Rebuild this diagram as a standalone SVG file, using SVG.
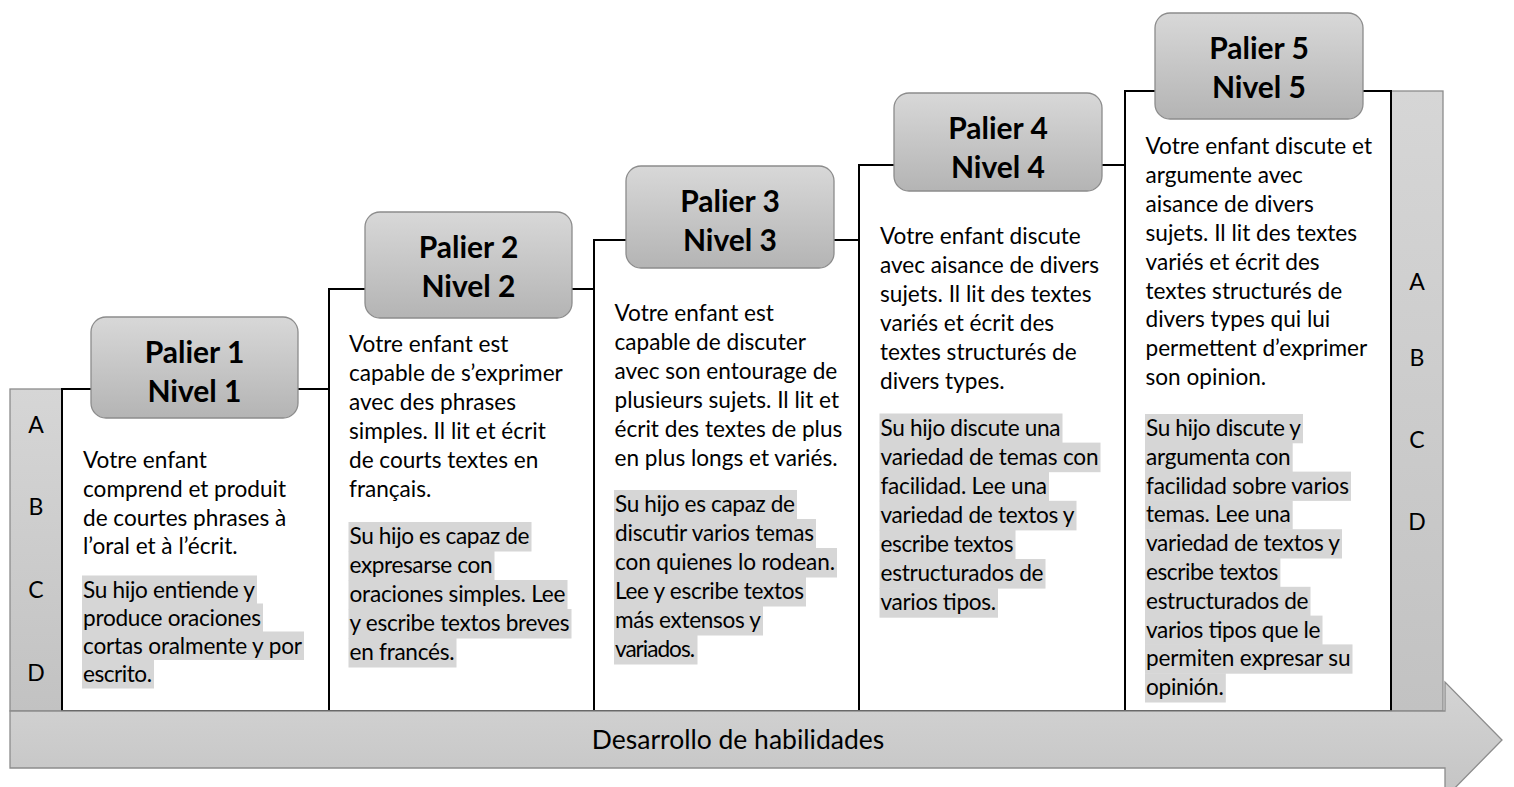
<svg xmlns="http://www.w3.org/2000/svg" width="1514" height="787" viewBox="0 0 1514 787">
<defs>
<linearGradient id="gBox" x1="0" y1="0" x2="0" y2="1"><stop offset="0" stop-color="#d8d8d8"/><stop offset="1" stop-color="#b4b4b4"/></linearGradient>
<linearGradient id="gBar" x1="0" y1="0" x2="0" y2="1"><stop offset="0" stop-color="#d6d6d6"/><stop offset="1" stop-color="#c2c2c2"/></linearGradient>
<linearGradient id="gArrow" x1="0" y1="0" x2="0" y2="1"><stop offset="0" stop-color="#d4d4d4"/><stop offset="1" stop-color="#c4c4c4"/></linearGradient>
</defs>
<style>
.bar{fill:url(#gBar);stroke:#8c8c8c;stroke-width:1.3}
.col{fill:#fff;stroke:#000;stroke-width:2}
.box{fill:url(#gBox);stroke:#8c8c8c;stroke-width:1.3}
.t{font-family:Lato,"Open Sans","Liberation Sans",sans-serif;fill:#000}
.title{font-size:30px;font-weight:700;text-anchor:middle}
.body{font-size:22.6px}
.hl{fill:#d6d6d6}
.abcd{font-size:23px;text-anchor:middle}
.arrowtxt{font-size:26.5px;text-anchor:middle}
</style>
<rect width="1514" height="787" fill="#fff"/>

<g id="left-bar">
<rect class="bar" x="10" y="389" width="52" height="322"/>
<text class="t abcd" x="36" y="433">A</text>
<text class="t abcd" x="36" y="515">B</text>
<text class="t abcd" x="36" y="598">C</text>
<text class="t abcd" x="36" y="681">D</text>
</g>

<g id="right-bar">
<rect class="bar" x="1391" y="91" width="52" height="620"/>
<text class="t abcd" x="1417" y="290">A</text>
<text class="t abcd" x="1417" y="366">B</text>
<text class="t abcd" x="1417" y="448">C</text>
<text class="t abcd" x="1417" y="530">D</text>
</g>

<g id="connectors">
<rect class="col" x="62" y="389" width="267" height="322"/>
<rect class="col" x="329" y="289" width="265" height="422"/>
<rect class="col" x="594" y="240" width="265" height="471"/>
<rect class="col" x="859" y="165" width="266" height="546"/>
<rect class="col" x="1125" y="91" width="266" height="620"/>
</g>

<g id="palier1">
<rect class="box" x="91" y="317" width="207" height="101" rx="15"/>
<text class="t title" x="194.5" y="363">Palier 1</text>
<text class="t title" x="194.5" y="402">Nivel 1</text>
<g class="t body">
<text x="83" y="468">Votre enfant</text>
<text x="83" y="496.8">comprend et produit</text>
<text x="83" y="525.6">de courtes phrases à</text>
<text x="83" y="554.4">l’oral et à l’écrit.</text>
</g>
<rect class="hl" x="82" y="575.5" width="175" height="28.5"/>
<rect class="hl" x="82" y="603.5" width="181" height="28.5"/>
<rect class="hl" x="82" y="631.5" width="222" height="28.5"/>
<rect class="hl" x="82" y="659.5" width="72" height="29"/>
<g class="t body">
<text x="83" y="597.5" textLength="172">Su hijo entiende y</text>
<text x="83" y="625.5" textLength="178">produce oraciones</text>
<text x="83" y="653.5" textLength="219">cortas oralmente y por</text>
<text x="83" y="681.5" textLength="69">escrito.</text>
</g>
</g>

<g id="palier2">
<rect class="box" x="365" y="212" width="207" height="106" rx="15"/>
<text class="t title" x="468.5" y="258">Palier 2</text>
<text class="t title" x="468.5" y="297">Nivel 2</text>
<g class="t body">
<text x="349" y="351.7">Votre enfant est</text>
<text x="349" y="380.7">capable de s’exprimer</text>
<text x="349" y="409.7">avec des phrases</text>
<text x="349" y="438.7">simples. Il lit et écrit</text>
<text x="349" y="467.7">de courts textes en</text>
<text x="349" y="496.7">français.</text>
</g>
<rect class="hl" x="348.5" y="522" width="183" height="29.5"/>
<rect class="hl" x="348.5" y="551" width="146" height="29.5"/>
<rect class="hl" x="348.5" y="580" width="219" height="29.5"/>
<rect class="hl" x="348.5" y="609" width="223" height="29.5"/>
<rect class="hl" x="348.5" y="638" width="108" height="29.5"/>
<g class="t body">
<text x="349.5" y="544" textLength="180">Su hijo es capaz de</text>
<text x="349.5" y="573" textLength="143">expresarse con</text>
<text x="349.5" y="602" textLength="216">oraciones simples. Lee</text>
<text x="349.5" y="631" textLength="220">y escribe textos breves</text>
<text x="349.5" y="660" textLength="105">en francés.</text>
</g>
</g>

<g id="palier3">
<rect class="box" x="626" y="166" width="208" height="102" rx="15"/>
<text class="t title" x="730" y="212">Palier 3</text>
<text class="t title" x="730" y="251">Nivel 3</text>
<g class="t body">
<text x="614.5" y="320.5">Votre enfant est</text>
<text x="614.5" y="349.5">capable de discuter</text>
<text x="614.5" y="378.5">avec son entourage de</text>
<text x="614.5" y="407.5">plusieurs sujets. Il lit et</text>
<text x="614.5" y="436.5">écrit des textes de plus</text>
<text x="614.5" y="465.5">en plus longs et variés.</text>
</g>
<rect class="hl" x="614" y="490" width="183" height="29.5"/>
<rect class="hl" x="614" y="519" width="202" height="29.5"/>
<rect class="hl" x="614" y="548" width="223" height="29.5"/>
<rect class="hl" x="614" y="577" width="192" height="29.5"/>
<rect class="hl" x="614" y="606" width="149" height="29.5"/>
<rect class="hl" x="614" y="635" width="83.5" height="29.5"/>
<g class="t body">
<text x="615" y="512" textLength="180">Su hijo es capaz de</text>
<text x="615" y="541" textLength="199">discutir varios temas</text>
<text x="615" y="570" textLength="220">con quienes lo rodean.</text>
<text x="615" y="599" textLength="189">Lee y escribe textos</text>
<text x="615" y="628" textLength="146">más extensos y</text>
<text x="615" y="657" textLength="80">variados.</text>
</g>
</g>

<g id="palier4">
<rect class="box" x="894" y="93" width="208" height="98" rx="15"/>
<text class="t title" x="998" y="139">Palier 4</text>
<text class="t title" x="998" y="178">Nivel 4</text>
<g class="t body">
<text x="880" y="243.5">Votre enfant discute</text>
<text x="880" y="272.5">avec aisance de divers</text>
<text x="880" y="301.5">sujets. Il lit des textes</text>
<text x="880" y="330.5">variés et écrit des</text>
<text x="880" y="359.5">textes structurés de</text>
<text x="880" y="388.5">divers types.</text>
</g>
<rect class="hl" x="879.5" y="413.5" width="183" height="29.6"/>
<rect class="hl" x="879.5" y="442.6" width="221" height="29.6"/>
<rect class="hl" x="879.5" y="471.7" width="169.5" height="29.6"/>
<rect class="hl" x="879.5" y="500.8" width="197" height="29.6"/>
<rect class="hl" x="879.5" y="529.9" width="136" height="29.6"/>
<rect class="hl" x="879.5" y="559" width="166" height="29.6"/>
<rect class="hl" x="879.5" y="588.1" width="118.5" height="29.6"/>
<g class="t body">
<text x="880.5" y="435.5" textLength="180">Su hijo discute una</text>
<text x="880.5" y="464.6" textLength="218">variedad de temas con</text>
<text x="880.5" y="493.7" textLength="166.5">facilidad. Lee una</text>
<text x="880.5" y="522.8" textLength="194">variedad de textos y</text>
<text x="880.5" y="551.9" textLength="133">escribe textos</text>
<text x="880.5" y="581" textLength="163">estructurados de</text>
<text x="880.5" y="610.1" textLength="115.5">varios tipos.</text>
</g>
</g>

<g id="palier5">
<rect class="box" x="1155" y="13" width="208" height="106" rx="15"/>
<text class="t title" x="1259" y="59">Palier 5</text>
<text class="t title" x="1259" y="98">Nivel 5</text>
<g class="t body">
<text x="1145.5" y="154">Votre enfant discute et</text>
<text x="1145.5" y="182.9">argumente avec</text>
<text x="1145.5" y="211.8">aisance de divers</text>
<text x="1145.5" y="240.7">sujets. Il lit des textes</text>
<text x="1145.5" y="269.6">variés et écrit des</text>
<text x="1145.5" y="298.5">textes structurés de</text>
<text x="1145.5" y="327.4">divers types qui lui</text>
<text x="1145.5" y="356.3">permettent d’exprimer</text>
<text x="1145.5" y="385.2">son opinion.</text>
</g>
<rect class="hl" x="1145" y="414" width="158" height="29.3"/>
<rect class="hl" x="1145" y="442.8" width="147.7" height="29.3"/>
<rect class="hl" x="1145" y="471.6" width="206" height="29.3"/>
<rect class="hl" x="1145" y="500.4" width="147.7" height="29.3"/>
<rect class="hl" x="1145" y="529.2" width="197" height="29.3"/>
<rect class="hl" x="1145" y="558" width="135.4" height="29.3"/>
<rect class="hl" x="1145" y="586.8" width="165.5" height="29.3"/>
<rect class="hl" x="1145" y="615.6" width="177.5" height="29.3"/>
<rect class="hl" x="1145" y="644.4" width="207.5" height="29.3"/>
<rect class="hl" x="1145" y="673.2" width="80.8" height="29.3"/>
<g class="t body">
<text x="1146" y="436" textLength="155">Su hijo discute y</text>
<text x="1146" y="464.8" textLength="144.7">argumenta con</text>
<text x="1146" y="493.6" textLength="203">facilidad sobre varios</text>
<text x="1146" y="522.4" textLength="144.7">temas. Lee una</text>
<text x="1146" y="551.2" textLength="194">variedad de textos y</text>
<text x="1146" y="580" textLength="132.4">escribe textos</text>
<text x="1146" y="608.8" textLength="162.5">estructurados de</text>
<text x="1146" y="637.6" textLength="174.5">varios tipos que le</text>
<text x="1146" y="666.4" textLength="204.5">permiten expresar su</text>
<text x="1146" y="695.2" textLength="77.8">opinión.</text>
</g>
</g>

<g id="arrow">
<path d="M10,711 H1445 V682 L1502,740 L1445,798 V768 H10 Z" fill="url(#gArrow)" stroke="#8c8c8c" stroke-width="1.3"/>
<text class="t arrowtxt" x="738" y="749">Desarrollo de habilidades</text>
</g>
</svg>
